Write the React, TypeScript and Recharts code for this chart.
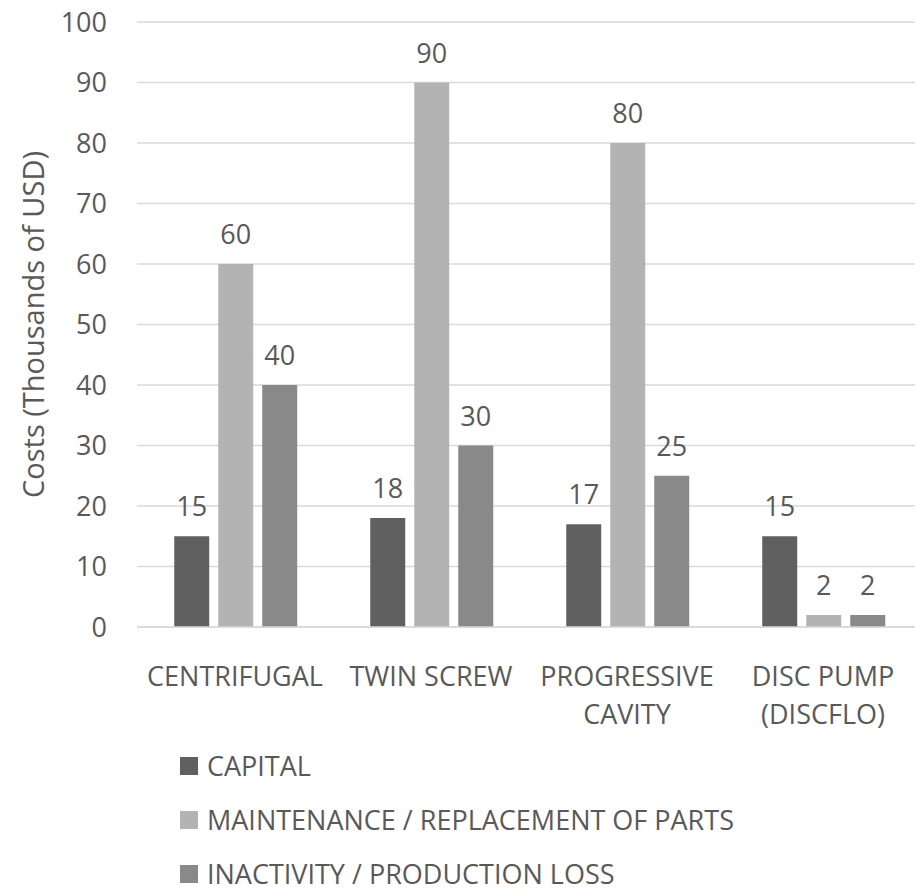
import React from 'react';
import { BarChart, Bar, XAxis, YAxis, CartesianGrid, Legend, LabelList } from 'recharts';

const categories = ['CENTRIFUGAL', 'TWIN SCREW', 'PROGRESSIVE CAVITY', 'DISC PUMP (DISCFLO)'];
const tickLines: Record<string, string[]> = {
  'CENTRIFUGAL': ['CENTRIFUGAL'],
  'TWIN SCREW': ['TWIN SCREW'],
  'PROGRESSIVE CAVITY': ['PROGRESSIVE', 'CAVITY'],
  'DISC PUMP (DISCFLO)': ['DISC PUMP', '(DISCFLO)'],
};
const capital = [15, 18, 17, 15];
const maintenance = [60, 90, 80, 2];
const inactivity = [40, 30, 25, 2];
const yTicks = [0, 10, 20, 30, 40, 50, 60, 70, 80, 90, 100];

const seriesOrder = ['CAPITAL', 'MAINTENANCE / REPLACEMENT OF PARTS', 'INACTIVITY / PRODUCTION LOSS'];

const data = categories.map((c, i) => ({
  name: c,
  capital: capital[i],
  maintenance: maintenance[i],
  inactivity: inactivity[i],
}));

const FONT = '"Open Sans", sans-serif';
const TEXT = '#595959';
const FS = 27;

const XTick = (props: any) => {
  const { x, y, payload } = props;
  const lines = tickLines[payload.value] || [payload.value];
  return (
    <g>
      {lines.map((l, i) => (
        <text key={i} x={x} y={y + 51 + i * 38} textAnchor="middle" fill={TEXT} fontSize={FS} fontFamily={FONT}>
          {l}
        </text>
      ))}
    </g>
  );
};

const LegendContent = (props: any) => {
  const items = [...(props.payload || [])].sort(
    (a: any, b: any) => seriesOrder.indexOf(a.value) - seriesOrder.indexOf(b.value)
  );
  return (
    <div style={{ fontFamily: FONT, fontSize: FS, color: TEXT }}>
      {items.map((p: any, i: number) => (
        <div key={i} style={{ height: 54, display: 'flex', alignItems: 'center', whiteSpace: 'nowrap' }}>
          <span style={{ display: 'inline-block', width: 18, height: 18, background: p.color, marginRight: 9 }} />
          <span style={{ lineHeight: '20px' }}>{p.value}</span>
        </div>
      ))}
    </div>
  );
};

const YLabel = (props: any) => {
  const { viewBox } = props;
  const cx = viewBox.x + 44;
  const cy = viewBox.y + viewBox.height / 2;
  return (
    <text x={cx} y={cy} transform={`rotate(-90, ${cx}, ${cy})`} textAnchor="middle" fill={TEXT} fontSize={29} fontFamily={FONT}>
      Costs (Thousands of USD)
    </text>
  );
};

export default function App() {
  return (
    <div style={{ position: 'absolute', left: 0, top: 0, width: 915, height: 893, overflow: 'hidden', background: '#fff' }}>
      <BarChart
        width={923}
        height={893}
        data={data}
        margin={{ top: 22, right: 2, bottom: 0, left: 0 }}
        barCategoryGap="19%"
        barGap={9}
      >
        <CartesianGrid vertical={false} stroke="#d9d9d9" strokeWidth={1.5} />
        <XAxis
          dataKey="name"
          height={266}
          axisLine={{ stroke: '#d9d9d9', strokeWidth: 1.5 }}
          tickLine={false}
          tick={<XTick />}
          interval={0}
        />
        <YAxis
          width={137}
          domain={[0, 100]}
          ticks={yTicks}
          axisLine={false}
          tickLine={false}
          tickSize={0}
          tickMargin={30}
          tick={{ fill: TEXT, fontSize: FS, fontFamily: FONT }}
          label={<YLabel />}
        />
        <Legend
          layout="vertical"
          align="center"
          verticalAlign="middle"
          itemSorter={null as any}
          content={<LegendContent />}
          wrapperStyle={{ position: 'absolute', left: 180, top: 739, width: 700, height: 150 }}
        />
        <Bar dataKey="capital" name={seriesOrder[0]} fill="#606060" isAnimationActive={false}>
          <LabelList dataKey="capital" position="top" offset={20} fill={TEXT} fontSize={FS} fontFamily={FONT} />
        </Bar>
        <Bar dataKey="maintenance" name={seriesOrder[1]} fill="#b3b3b3" isAnimationActive={false}>
          <LabelList dataKey="maintenance" position="top" offset={20} fill={TEXT} fontSize={FS} fontFamily={FONT} />
        </Bar>
        <Bar dataKey="inactivity" name={seriesOrder[2]} fill="#898989" isAnimationActive={false}>
          <LabelList dataKey="inactivity" position="top" offset={20} fill={TEXT} fontSize={FS} fontFamily={FONT} />
        </Bar>
      </BarChart>
    </div>
  );
}
